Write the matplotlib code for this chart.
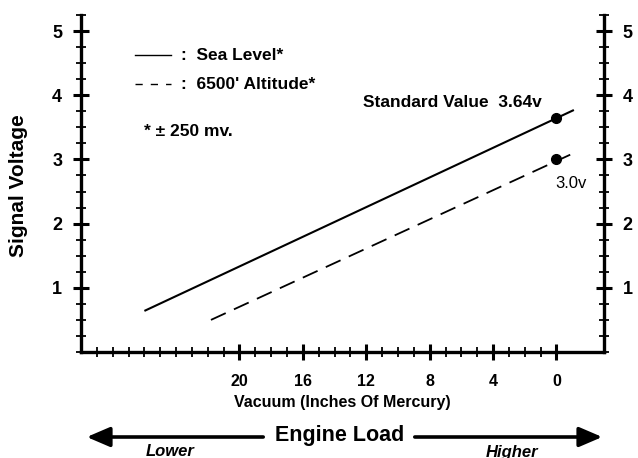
import matplotlib
matplotlib.use("Agg")
import matplotlib.pyplot as plt
from matplotlib.ticker import MultipleLocator, FixedLocator

plt.rcParams['font.family'] = ['Liberation Sans', 'DejaVu Sans']

# Data
sea_x = [26.0, -1.1]
sea_y = [0.64, 3.77]
alt_x = [21.8, -1.1]
alt_y = [0.50, 3.10]
point_x = [0, 0]
point_y = [3.64, 3.0]
x_ticks = [20, 16, 12, 8, 4, 0]
y_ticks = [1, 2, 3, 4, 5]

W, H = 638, 458
fig = plt.figure(figsize=(W / 100, H / 100), dpi=100)
ax = fig.add_axes([81 / W, 1 - 352 / H, (604 - 81) / W, (352 - 15) / H])

ax.plot(sea_x, sea_y, color='black', lw=1.5, solid_capstyle='butt')
ax.plot(alt_x, alt_y, color='black', lw=1.3, dashes=(9, 5))
ax.plot(point_x, point_y, 'o', color='black', ms=7)

ax.set_xlim(30, -3)
ax.set_ylim(0, 5.25)

for s in ['left', 'right', 'bottom']:
    ax.spines[s].set_linewidth(2.4)
ax.spines['top'].set_visible(False)

ax.xaxis.set_major_locator(FixedLocator(x_ticks))
ax.xaxis.set_minor_locator(FixedLocator([v for v in range(1, 30) if v % 4 != 0 or v > 20]))
ax.yaxis.set_major_locator(FixedLocator(y_ticks))
ax.yaxis.set_minor_locator(MultipleLocator(0.25))

ax.tick_params(axis='both', which='major', direction='inout', length=11, width=2.2, color='black')
ax.tick_params(axis='both', which='minor', direction='inout', length=7, width=1.3, color='black')
ax.tick_params(axis='y', which='both', left=True, right=True, labelleft=True, labelright=True)
ax.tick_params(axis='y', which='major', labelsize=13, pad=8)
ax.tick_params(axis='x', which='major', labelsize=11.5, pad=10)
for t in ax.yaxis.get_major_ticks():
    t.label1.set_fontweight('bold')
    t.label2.set_fontweight('bold')
for t in ax.xaxis.get_major_ticks():
    t.label1.set_fontweight('bold')

fig.text(19 / W, 1 - 186 / H, 'Signal Voltage', fontsize=15, fontweight='bold',
         rotation=90, ha='center', va='center')
ax.set_xlabel('Vacuum (Inches Of Mercury)', fontsize=11.5, fontweight='bold', labelpad=5)

# Legend drawn as in the original
ax.plot([26.6, 24.3], [4.62, 4.62], color='black', lw=1.0)
ax.plot([26.6, 24.3], [4.17, 4.17], color='black', lw=1.0, dashes=(5.2, 5.8))
ax.text(23.7, 4.62, ':  Sea Level*', fontsize=12.5, fontweight='bold', va='center', ha='left')
ax.text(23.7, 4.17, ':  6500\' Altitude*', fontsize=12.5, fontweight='bold', va='center', ha='left')
ax.text(26.0, 3.43, '* \u00b1 250 mv.', fontsize=12.5, fontweight='bold', va='center', ha='left')

ax.text(0.9, 3.88, 'Standard Value  3.64v', fontsize=12.5, fontweight='bold', va='center', ha='right')
ax.text(-0.9, 2.63, '3.0v', fontsize=12, va='center', ha='center')

# Engine load arrows
def fy(y):
    return 1 - y / H

def fx(x):
    return x / W

fig.text(fx(340), fy(436), 'Engine Load', fontsize=15.5, fontweight='bold', ha='center', va='center')
fig.add_artist(matplotlib.patches.FancyArrowPatch((fx(266), fy(437)), (fx(84), fy(437)),
               transform=fig.transFigure, arrowstyle='-|>,head_length=14,head_width=6',
               lw=2.6, color='black', mutation_scale=1))
fig.add_artist(matplotlib.patches.FancyArrowPatch((fx(412), fy(437)), (fx(605), fy(437)),
               transform=fig.transFigure, arrowstyle='-|>,head_length=14,head_width=6',
               lw=2.6, color='black', mutation_scale=1))
fig.text(fx(170), fy(452), 'Lower', fontsize=12, fontweight='bold', style='italic', ha='center', va='center')
fig.text(fx(512), fy(452), 'Higher', fontsize=12, fontweight='bold', style='italic', ha='center', va='center')

fig.savefig('out.png', dpi=100)
